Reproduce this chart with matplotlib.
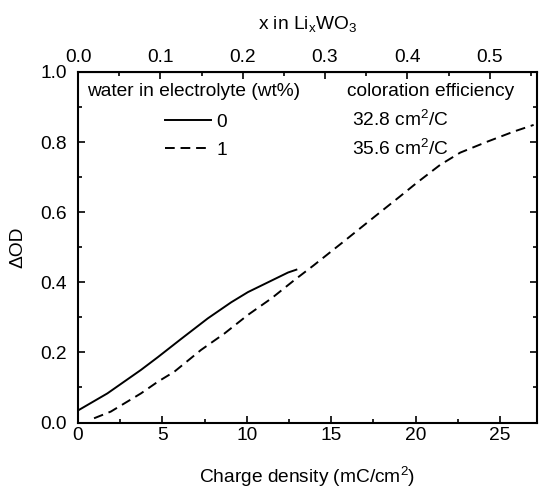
import matplotlib
matplotlib.use("Agg")
import matplotlib.pyplot as plt
from matplotlib.ticker import MultipleLocator

plt.rcParams['font.family'] = ['Liberation Sans', 'DejaVu Sans']
plt.rcParams['mathtext.fontset'] = 'custom'
plt.rcParams['mathtext.rm'] = 'Liberation Sans'
plt.rcParams['mathtext.it'] = 'Liberation Sans'
plt.rcParams['mathtext.default'] = 'regular'

# data
q_water0 = [0.06, 1.74, 3.73, 4.72, 6.10, 7.69, 9.08, 10.07, 11.26, 12.45, 12.94]
od_water0 = [0.036, 0.083, 0.150, 0.186, 0.238, 0.297, 0.343, 0.372, 0.400, 0.428, 0.436]
q_water1 = [0.95, 1.94, 3.73, 4.72, 5.71, 7.29, 8.68, 10.07, 11.46, 12.84, 13.93,
            15.71, 17.70, 19.08, 20.08, 21.46, 22.65, 24.24, 25.82, 27.0]
od_water1 = [0.012, 0.031, 0.083, 0.116, 0.145, 0.207, 0.254, 0.307, 0.354, 0.407, 0.447,
             0.515, 0.592, 0.645, 0.684, 0.735, 0.770, 0.801, 0.830, 0.849]
legend_labels = ['0', '1']
efficiencies = ['32.8 cm$^2$/C', '35.6 cm$^2$/C']
bottom_ticks = [0, 5, 10, 15, 20, 25]
top_ticks = [0.0, 0.1, 0.2, 0.3, 0.4, 0.5]
y_ticks = [0.0, 0.2, 0.4, 0.6, 0.8, 1.0]
Q_PER_X = 48.8

fs = 13.8
fig = plt.figure(figsize=(5.39, 4.88), dpi=100)
ax = fig.add_axes([78/539, 1-422.5/488, 459/539, 350.5/488])

l0, = ax.plot(q_water0, od_water0, color='black', lw=1.4)
l1, = ax.plot(q_water1, od_water1, color='black', lw=1.4, dashes=(5, 3))

ax.set_xlim(0, 27.2)
ax.set_ylim(0, 1.0)
ax.set_xticks(bottom_ticks)
ax.set_yticks(y_ticks)
ax.set_yticklabels([f'{v:.1f}' for v in y_ticks])
ax.xaxis.set_minor_locator(MultipleLocator(2.5))
ax.yaxis.set_minor_locator(MultipleLocator(0.1))
ax.tick_params(which='both', direction='in', right=True, labelsize=fs, width=1.2)
ax.tick_params(which='major', length=5)
ax.tick_params(which='minor', length=3)
ax.tick_params(axis='y', pad=8)
ax.tick_params(axis='x', pad=3)
for s in ax.spines.values():
    s.set_linewidth(1.5)

ax.set_xlabel('Charge density (mC/cm$^2$)', fontsize=fs, labelpad=15)
ax.set_ylabel('ΔOD', fontsize=fs, labelpad=10)

sec = ax.secondary_xaxis('top', functions=(lambda q: q / Q_PER_X, lambda x: x * Q_PER_X))
sec.set_xticks(top_ticks)
sec.set_xticklabels([f'{v:.1f}' for v in top_ticks])
sec.xaxis.set_minor_locator(MultipleLocator(0.05))
sec.tick_params(which='both', direction='in', labelsize=fs, width=1.2, pad=4.5)
sec.tick_params(which='major', length=5)
sec.tick_params(which='minor', length=3)
sec.set_xlabel('x in Li$_x$WO$_3$', fontsize=fs, labelpad=14)

ax.text(0.02, 0.944, 'water in electrolyte (wt%)', transform=ax.transAxes,
        fontsize=fs, va='center', ha='left')
ax.text(0.586, 0.944, 'coloration efficiency', transform=ax.transAxes,
        fontsize=fs, va='center', ha='left')
for yy, t in zip([0.863, 0.780], efficiencies):
    ax.text(0.597, yy, t, transform=ax.transAxes, fontsize=fs, va='center', ha='left')

leg = ax.legend([l0, l1], legend_labels, loc='upper left', bbox_to_anchor=(0.19, 0.882),
                frameon=False, fontsize=fs, handlelength=2.4, handletextpad=0.25,
                borderpad=0, borderaxespad=0, labelspacing=0.55)

fig.savefig('out.png', dpi=100)
